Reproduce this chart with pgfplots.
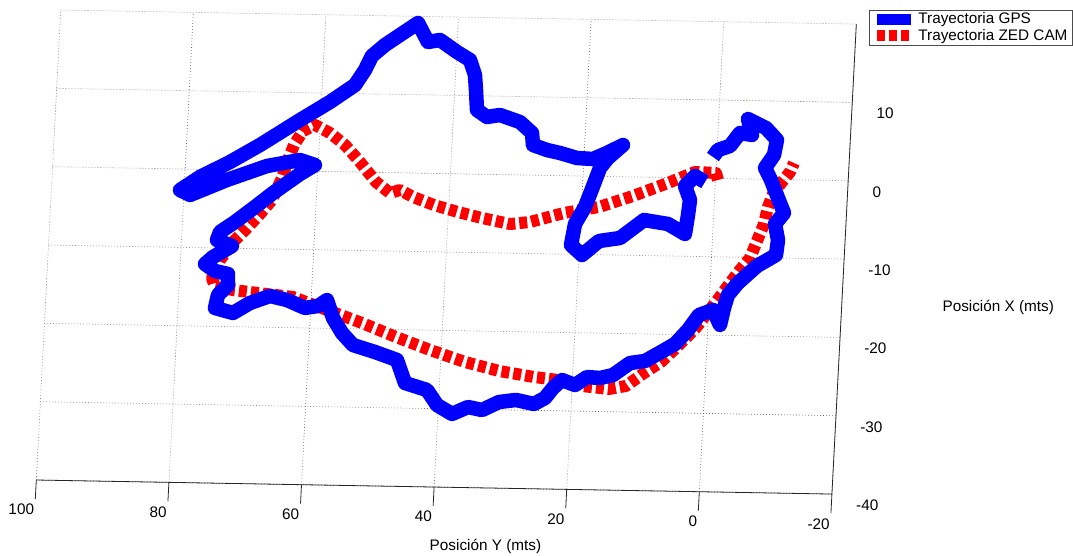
\documentclass[border=0pt]{standalone}
\usepackage{fontspec}
\setmainfont{Liberation Sans}
\usepackage{pgfplots}
\pgfplotsset{compat=1.18}
\definecolor{mblue}{rgb}{0,0,1}
\definecolor{mred}{rgb}{1,0,0}
\newcommand{\mfont}{\fontsize{15.3}{18}\selectfont}
\begin{document}
\mfont
\begin{tikzpicture}
\begin{axis}[
  x={(-6.63pt,0.117pt)}, y={(0.407pt,7.833pt)},
  xmin=-20, xmax=100, ymin=-40, ymax=20,
  clip=false,
  axis x line*=bottom, axis y line*=right,
  axis line style={black!85, line width=0.8pt},
  xtick={-20,0,...,100}, xticklabels={-20,0,20,40,60,80,100},
  ytick={-40,-30,...,20}, yticklabels={-40,-30,-20,-10,0,10,{}},
  tick align=outside, major tick length=19pt,
  tick style={black!85, line width=0.8pt},
  grid=major,
  grid style={black!60, line width=0.6pt, dash pattern=on 0.8pt off 2.2pt},
  xticklabel style={anchor=north east, xshift=4pt, font=\mfont},
  yticklabel style={anchor=north west, font=\mfont},
  xlabel={Posición Y (mts)}, ylabel={Posición X (mts)},
  xlabel style={at={(axis cs:31.8,-47.5)}, anchor=center, font=\mfont},
  ylabel style={at={(axis cs:-43.6,-15.8)}, anchor=center, rotate=-90, font=\mfont},
  reverse legend,
  legend cell align=left,
  legend style={at={(rel axis cs:0,1)}, anchor=north west, xshift=12.3pt, yshift=14.3pt,
    draw=black!70, line width=0.6pt, fill=white, font=\mfont,
    inner xsep=3pt, inner ysep=1pt, nodes={inner sep=1.5pt}},
  legend image code/.code={\draw[#1, line width=11pt] (0pt,0pt) -- (34pt,0pt);},
]
\addplot[mred, line width=12pt, dash pattern=on 8pt off 4pt, line join=round] coordinates {
(-0.37,-0.20) (-0.02,0.69) (3.15,0.77) (7.14,-0.69) (12.31,-2.43) (17.35,-3.91) (22.57,-4.75) (27.63,-5.98) (30.63,-6.28) (34.89,-5.58) (38.56,-4.87) (42.23,-4.03) (45.45,-3.05) (47.47,-2.19) (48.95,-2.60) (51.15,-1.22) (53.71,1.29) (56.11,3.43) (58.46,4.92) (60.78,5.91) (62.55,5.12) (63.79,3.31) (64.58,1.38) (65.34,-0.93) (66.68,-3.75) (68.38,-5.57) (70.22,-7.38) (72.22,-9.20) (74.04,-11.52) (75.11,-13.84) (74.58,-14.98) (71.85,-15.32) (68.06,-15.65) (62.75,-16.08) (57.53,-17.66) (52.15,-19.24) (46.92,-20.95) (41.69,-22.53) (36.33,-23.98) (31.13,-25.05) (25.81,-25.74) (22.17,-26.07) (18.51,-26.78) (14.41,-27.10) (11.88,-26.68) (9.27,-24.98) (6.79,-23.54) (4.35,-21.46) (1.93,-19.26) (-0.04,-16.93) (-1.45,-15.25) (-2.99,-13.31) (-4.39,-11.63) (-5.81,-10.08) (-6.73,-7.89) (-7.65,-5.71) (-8.12,-3.53) (-8.77,-1.86) (-10.03,-0.31) (-11.16,0.98) (-11.69,2.14)
};
\addlegendentry{Trayectoria ZED CAM}
\addplot[mblue, line width=14.5pt, line join=round] coordinates {
(1.57,-0.48) (3.12,0.26) (4.55,-1.04) (3.69,-2.81) (3.87,-4.73) (4.18,-7.16) (6.82,-5.92) (10.46,-5.47) (13.94,-7.82) (17.08,-8.25) (19.53,-10.07) (21.27,-8.82) (20.83,-6.13) (19.46,-3.94) (18.54,-1.63) (17.50,1.07) (16.37,2.36) (14.22,4.05) (16.56,3.00) (18.63,2.20) (21.05,2.29) (23.65,2.89) (25.63,3.24) (27.78,3.85) (28.02,5.38) (29.92,6.75) (32.99,7.60) (34.93,7.32) (36.49,8.19) (36.80,10.74) (37.07,12.65) (37.94,14.55) (39.96,15.54) (42.61,17.03) (44.41,16.75) (46.06,19.15) (48.68,17.58) (50.86,16.27) (52.74,14.84) (53.68,13.04) (55.07,11.10) (58.70,8.88) (63.08,6.51) (68.92,3.23) (73.30,1.00) (77.71,-0.98) (80.62,-2.69) (79.07,-3.30) (73.62,-1.30) (67.70,0.57) (62.77,1.41) (60.47,0.81) (62.66,-0.37) (66.58,-2.86) (69.18,-4.68) (72.08,-6.64) (74.26,-7.95) (74.65,-8.98) (72.34,-9.71) (75.12,-11.16) (76.27,-12.07) (74.71,-12.94) (72.73,-13.29) (72.64,-14.70) (74.07,-15.99) (74.42,-17.66) (71.67,-18.25) (69.19,-16.94) (66.23,-16.00) (63.63,-16.48) (60.86,-17.45) (58.92,-17.17) (57.61,-16.39) (56.56,-18.67) (55.09,-20.56) (53.34,-22.07) (49.97,-22.91) (46.59,-23.88) (45.20,-26.80) (41.83,-27.64) (40.21,-29.53) (37.88,-30.64) (35.52,-29.72) (33.39,-30.07) (30.89,-29.01) (28.34,-28.71) (25.60,-29.18) (23.99,-28.39) (22.86,-27.10) (21.57,-26.06) (19.57,-26.67) (17.82,-25.62) (15.86,-25.72) (13.92,-25.31) (11.45,-23.74) (9.21,-23.45) (6.87,-22.27) (4.82,-21.21) (2.97,-19.40) (1.43,-17.46) (-0.64,-16.79) (-1.81,-18.69) (-2.28,-16.51) (-2.78,-14.84) (-4.19,-13.29) (-6.92,-11.08) (-9.70,-9.63) (-9.89,-7.72) (-9.31,-5.68) (-10.58,-4.26) (-9.56,-2.36) (-8.36,-0.08) (-7.36,1.44) (-8.62,3.12) (-8.95,5.04) (-7.20,6.54) (-4.42,7.65) (-5.15,5.62) (-3.32,5.85) (-1.92,4.17) (-0.14,3.63) (0.56,2.72)
};
\addlegendentry{Trayectoria GPS}
\coordinate (O) at (axis cs:0,0);
\end{axis}
\pgfresetboundingbox
\path[use as bounding box] (O) ++(-715.6pt,178.4pt) rectangle ++(1073pt,-556pt);
\end{tikzpicture}
\end{document}
